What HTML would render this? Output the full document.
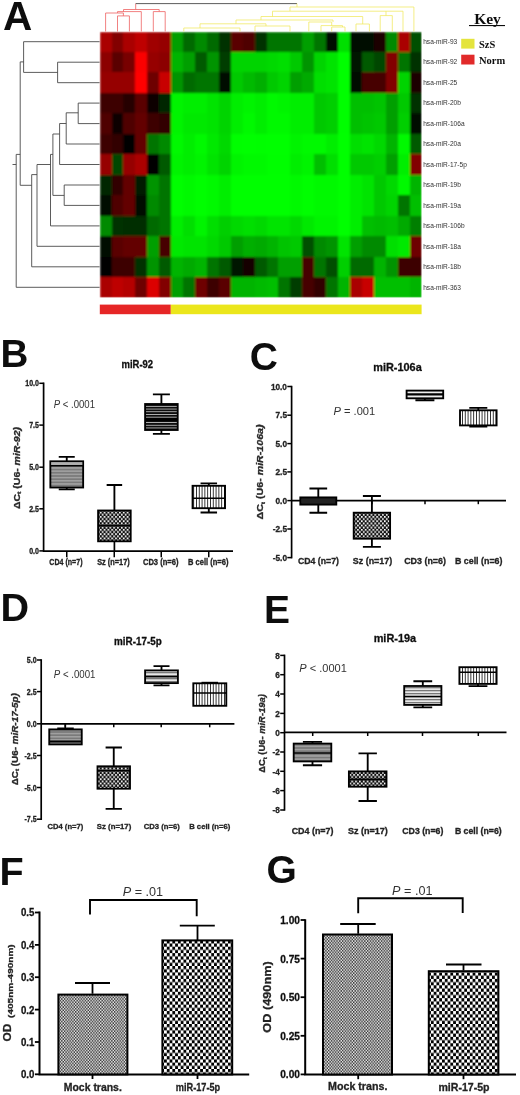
<!DOCTYPE html>
<html><head><meta charset="utf-8"><title>Figure</title>
<style>html,body{margin:0;padding:0;background:#fff;}svg{display:block;}text{font-family:"Liberation Sans",sans-serif;}</style>
</head><body>
<svg width="520" height="1095" viewBox="0 0 520 1095">
<defs>
<filter id="bl" x="-2%" y="-2%" width="104%" height="104%"><feGaussianBlur stdDeviation="0.9"/></filter>
<filter id="b2" x="-5%" y="-5%" width="110%" height="110%"><feGaussianBlur stdDeviation="0.35"/></filter>
<pattern id="chkL" width="5.56" height="6.44" patternUnits="userSpaceOnUse"><rect width="5.56" height="6.44" fill="#fff"/><rect x="0" y="0" width="2.78" height="3.22" fill="#000"/><rect x="2.78" y="3.22" width="2.78" height="3.22" fill="#000"/></pattern>
<pattern id="chkS" width="3.84" height="4.3" patternUnits="userSpaceOnUse"><rect width="3.84" height="4.3" fill="#111"/><rect x="0" y="0" width="1.65" height="1.85" fill="#fff"/><rect x="1.92" y="2.15" width="1.65" height="1.85" fill="#fff"/></pattern>
<pattern id="hlD" width="4" height="2.7" patternUnits="userSpaceOnUse"><rect width="4" height="2.7" fill="#0a0a0a"/><rect x="0" y="0.9" width="4" height="0.9" fill="#b8b8b8"/></pattern>
<pattern id="hlL" width="4" height="3" patternUnits="userSpaceOnUse"><rect width="4" height="3" fill="#e8e8e8"/><rect x="0" y="0" width="4" height="1.3" fill="#777"/></pattern>
<pattern id="vl" width="2.8" height="4" patternUnits="userSpaceOnUse"><rect width="2.8" height="4" fill="#fff"/><rect x="0" y="0" width="0.9" height="4" fill="#222"/></pattern>
<pattern id="chkF" width="2.78" height="3.22" patternUnits="userSpaceOnUse"><rect width="2.78" height="3.22" fill="#e6e6e6"/><rect x="0" y="0" width="1.39" height="1.61" fill="#3a3a3a"/><rect x="1.39" y="1.61" width="1.39" height="1.61" fill="#3a3a3a"/></pattern>
<filter id="soft" x="0" y="0" width="520" height="1095" filterUnits="userSpaceOnUse"><feGaussianBlur stdDeviation="0.38"/></filter>
<pattern id="gr" width="4" height="3.2" patternUnits="userSpaceOnUse"><rect width="4" height="3.2" fill="#7a7a7a"/><rect x="0" y="0" width="4" height="1.5" fill="#a2a2a2"/></pattern>
</defs>
<rect width="520" height="1095" fill="#fff"/>
<g filter="url(#soft)">
<g filter="url(#bl)" shape-rendering="crispEdges">
<rect x="99.6" y="31.5" width="322.00" height="266.00" fill="#0c0"/>
<rect x="99.60" y="31.50" width="12.53" height="21.06" fill="rgb(170,0,0)"/>
<rect x="111.53" y="31.50" width="12.53" height="21.06" fill="rgb(130,0,0)"/>
<rect x="123.45" y="31.50" width="12.53" height="21.06" fill="rgb(170,0,0)"/>
<rect x="135.38" y="31.50" width="12.53" height="21.06" fill="rgb(190,0,0)"/>
<rect x="147.30" y="31.50" width="12.53" height="21.06" fill="rgb(160,0,0)"/>
<rect x="159.23" y="31.50" width="12.53" height="21.06" fill="rgb(150,0,0)"/>
<rect x="171.16" y="31.50" width="12.53" height="21.06" fill="rgb(0,159,0)"/>
<rect x="183.08" y="31.50" width="12.53" height="21.06" fill="rgb(0,106,0)"/>
<rect x="195.01" y="31.50" width="12.53" height="21.06" fill="rgb(0,138,0)"/>
<rect x="206.93" y="31.50" width="12.53" height="21.06" fill="rgb(0,106,0)"/>
<rect x="218.86" y="31.50" width="12.53" height="21.06" fill="rgb(0,50,0)"/>
<rect x="230.79" y="31.50" width="12.53" height="21.06" fill="rgb(90,0,0)"/>
<rect x="242.71" y="31.50" width="12.53" height="21.06" fill="rgb(80,0,0)"/>
<rect x="254.64" y="31.50" width="12.53" height="21.06" fill="rgb(0,50,0)"/>
<rect x="266.56" y="31.50" width="12.53" height="21.06" fill="rgb(0,117,0)"/>
<rect x="278.49" y="31.50" width="12.53" height="21.06" fill="rgb(0,117,0)"/>
<rect x="290.41" y="31.50" width="12.53" height="21.06" fill="rgb(0,117,0)"/>
<rect x="302.34" y="31.50" width="12.53" height="21.06" fill="rgb(0,159,0)"/>
<rect x="314.27" y="31.50" width="12.53" height="21.06" fill="rgb(0,117,0)"/>
<rect x="326.19" y="31.50" width="12.53" height="21.06" fill="rgb(0,15,0)"/>
<rect x="338.12" y="31.50" width="12.53" height="21.06" fill="rgb(0,223,0)"/>
<rect x="350.04" y="31.50" width="12.53" height="21.06" fill="rgb(0,15,0)"/>
<rect x="361.97" y="31.50" width="12.53" height="21.06" fill="rgb(0,8,0)"/>
<rect x="373.90" y="31.50" width="12.53" height="21.06" fill="rgb(30,0,0)"/>
<rect x="385.82" y="31.50" width="12.53" height="21.06" fill="rgb(0,138,0)"/>
<rect x="397.75" y="31.50" width="12.53" height="21.06" fill="rgb(170,0,0)"/>
<rect x="409.67" y="31.50" width="12.53" height="21.06" fill="rgb(0,80,0)"/>
<rect x="99.60" y="51.96" width="12.53" height="21.06" fill="rgb(140,0,0)"/>
<rect x="111.53" y="51.96" width="12.53" height="21.06" fill="rgb(90,0,0)"/>
<rect x="123.45" y="51.96" width="12.53" height="21.06" fill="rgb(120,0,0)"/>
<rect x="135.38" y="51.96" width="12.53" height="21.06" fill="rgb(250,0,0)"/>
<rect x="147.30" y="51.96" width="12.53" height="21.06" fill="rgb(150,0,0)"/>
<rect x="159.23" y="51.96" width="12.53" height="21.06" fill="rgb(140,0,0)"/>
<rect x="171.16" y="51.96" width="12.53" height="21.06" fill="rgb(0,180,0)"/>
<rect x="183.08" y="51.96" width="12.53" height="21.06" fill="rgb(0,159,0)"/>
<rect x="195.01" y="51.96" width="12.53" height="21.06" fill="rgb(0,90,0)"/>
<rect x="206.93" y="51.96" width="12.53" height="21.06" fill="rgb(0,148,0)"/>
<rect x="218.86" y="51.96" width="12.53" height="21.06" fill="rgb(0,60,0)"/>
<rect x="230.79" y="51.96" width="12.53" height="21.06" fill="rgb(0,212,0)"/>
<rect x="242.71" y="51.96" width="12.53" height="21.06" fill="rgb(0,212,0)"/>
<rect x="254.64" y="51.96" width="12.53" height="21.06" fill="rgb(0,212,0)"/>
<rect x="266.56" y="51.96" width="12.53" height="21.06" fill="rgb(0,217,0)"/>
<rect x="278.49" y="51.96" width="12.53" height="21.06" fill="rgb(0,223,0)"/>
<rect x="290.41" y="51.96" width="12.53" height="21.06" fill="rgb(0,201,0)"/>
<rect x="302.34" y="51.96" width="12.53" height="21.06" fill="rgb(0,148,0)"/>
<rect x="314.27" y="51.96" width="12.53" height="21.06" fill="rgb(0,212,0)"/>
<rect x="326.19" y="51.96" width="12.53" height="21.06" fill="rgb(0,228,0)"/>
<rect x="338.12" y="51.96" width="12.53" height="21.06" fill="rgb(0,254,0)"/>
<rect x="350.04" y="51.96" width="12.53" height="21.06" fill="rgb(0,20,0)"/>
<rect x="361.97" y="51.96" width="12.53" height="21.06" fill="rgb(0,90,0)"/>
<rect x="373.90" y="51.96" width="12.53" height="21.06" fill="rgb(0,70,0)"/>
<rect x="385.82" y="51.96" width="12.53" height="21.06" fill="rgb(130,0,0)"/>
<rect x="397.75" y="51.96" width="12.53" height="21.06" fill="rgb(0,117,0)"/>
<rect x="409.67" y="51.96" width="12.53" height="21.06" fill="rgb(0,50,0)"/>
<rect x="99.60" y="72.42" width="12.53" height="21.06" fill="rgb(150,0,0)"/>
<rect x="111.53" y="72.42" width="12.53" height="21.06" fill="rgb(150,0,0)"/>
<rect x="123.45" y="72.42" width="12.53" height="21.06" fill="rgb(150,0,0)"/>
<rect x="135.38" y="72.42" width="12.53" height="21.06" fill="rgb(255,0,0)"/>
<rect x="147.30" y="72.42" width="12.53" height="21.06" fill="rgb(110,0,0)"/>
<rect x="159.23" y="72.42" width="12.53" height="21.06" fill="rgb(200,0,0)"/>
<rect x="171.16" y="72.42" width="12.53" height="21.06" fill="rgb(0,148,0)"/>
<rect x="183.08" y="72.42" width="12.53" height="21.06" fill="rgb(0,106,0)"/>
<rect x="195.01" y="72.42" width="12.53" height="21.06" fill="rgb(0,117,0)"/>
<rect x="206.93" y="72.42" width="12.53" height="21.06" fill="rgb(0,117,0)"/>
<rect x="218.86" y="72.42" width="12.53" height="21.06" fill="rgb(0,10,0)"/>
<rect x="230.79" y="72.42" width="12.53" height="21.06" fill="rgb(0,201,0)"/>
<rect x="242.71" y="72.42" width="12.53" height="21.06" fill="rgb(0,186,0)"/>
<rect x="254.64" y="72.42" width="12.53" height="21.06" fill="rgb(0,175,0)"/>
<rect x="266.56" y="72.42" width="12.53" height="21.06" fill="rgb(0,201,0)"/>
<rect x="278.49" y="72.42" width="12.53" height="21.06" fill="rgb(0,212,0)"/>
<rect x="290.41" y="72.42" width="12.53" height="21.06" fill="rgb(0,159,0)"/>
<rect x="302.34" y="72.42" width="12.53" height="21.06" fill="rgb(0,170,0)"/>
<rect x="314.27" y="72.42" width="12.53" height="21.06" fill="rgb(0,223,0)"/>
<rect x="326.19" y="72.42" width="12.53" height="21.06" fill="rgb(0,228,0)"/>
<rect x="338.12" y="72.42" width="12.53" height="21.06" fill="rgb(0,254,0)"/>
<rect x="350.04" y="72.42" width="12.53" height="21.06" fill="rgb(0,10,0)"/>
<rect x="361.97" y="72.42" width="12.53" height="21.06" fill="rgb(70,0,0)"/>
<rect x="373.90" y="72.42" width="12.53" height="21.06" fill="rgb(70,0,0)"/>
<rect x="385.82" y="72.42" width="12.53" height="21.06" fill="rgb(130,0,0)"/>
<rect x="397.75" y="72.42" width="12.53" height="21.06" fill="rgb(0,212,0)"/>
<rect x="409.67" y="72.42" width="12.53" height="21.06" fill="rgb(30,0,0)"/>
<rect x="99.60" y="92.88" width="12.53" height="21.06" fill="rgb(60,0,0)"/>
<rect x="111.53" y="92.88" width="12.53" height="21.06" fill="rgb(60,0,0)"/>
<rect x="123.45" y="92.88" width="12.53" height="21.06" fill="rgb(40,0,0)"/>
<rect x="135.38" y="92.88" width="12.53" height="21.06" fill="rgb(90,0,0)"/>
<rect x="147.30" y="92.88" width="12.53" height="21.06" fill="rgb(15,0,0)"/>
<rect x="159.23" y="92.88" width="12.53" height="21.06" fill="rgb(0,40,0)"/>
<rect x="171.16" y="92.88" width="12.53" height="21.06" fill="rgb(0,244,0)"/>
<rect x="183.08" y="92.88" width="12.53" height="21.06" fill="rgb(0,238,0)"/>
<rect x="195.01" y="92.88" width="12.53" height="21.06" fill="rgb(0,238,0)"/>
<rect x="206.93" y="92.88" width="12.53" height="21.06" fill="rgb(0,228,0)"/>
<rect x="218.86" y="92.88" width="12.53" height="21.06" fill="rgb(0,212,0)"/>
<rect x="230.79" y="92.88" width="12.53" height="21.06" fill="rgb(0,238,0)"/>
<rect x="242.71" y="92.88" width="12.53" height="21.06" fill="rgb(0,244,0)"/>
<rect x="254.64" y="92.88" width="12.53" height="21.06" fill="rgb(0,238,0)"/>
<rect x="266.56" y="92.88" width="12.53" height="21.06" fill="rgb(0,249,0)"/>
<rect x="278.49" y="92.88" width="12.53" height="21.06" fill="rgb(0,244,0)"/>
<rect x="290.41" y="92.88" width="12.53" height="21.06" fill="rgb(0,238,0)"/>
<rect x="302.34" y="92.88" width="12.53" height="21.06" fill="rgb(0,238,0)"/>
<rect x="314.27" y="92.88" width="12.53" height="21.06" fill="rgb(0,201,0)"/>
<rect x="326.19" y="92.88" width="12.53" height="21.06" fill="rgb(0,207,0)"/>
<rect x="338.12" y="92.88" width="12.53" height="21.06" fill="rgb(0,254,0)"/>
<rect x="350.04" y="92.88" width="12.53" height="21.06" fill="rgb(0,191,0)"/>
<rect x="361.97" y="92.88" width="12.53" height="21.06" fill="rgb(0,191,0)"/>
<rect x="373.90" y="92.88" width="12.53" height="21.06" fill="rgb(0,196,0)"/>
<rect x="385.82" y="92.88" width="12.53" height="21.06" fill="rgb(0,159,0)"/>
<rect x="397.75" y="92.88" width="12.53" height="21.06" fill="rgb(0,201,0)"/>
<rect x="409.67" y="92.88" width="12.53" height="21.06" fill="rgb(0,50,0)"/>
<rect x="99.60" y="113.35" width="12.53" height="21.06" fill="rgb(80,0,0)"/>
<rect x="111.53" y="113.35" width="12.53" height="21.06" fill="rgb(8,0,0)"/>
<rect x="123.45" y="113.35" width="12.53" height="21.06" fill="rgb(80,0,0)"/>
<rect x="135.38" y="113.35" width="12.53" height="21.06" fill="rgb(100,0,0)"/>
<rect x="147.30" y="113.35" width="12.53" height="21.06" fill="rgb(60,0,0)"/>
<rect x="159.23" y="113.35" width="12.53" height="21.06" fill="rgb(50,0,0)"/>
<rect x="171.16" y="113.35" width="12.53" height="21.06" fill="rgb(0,244,0)"/>
<rect x="183.08" y="113.35" width="12.53" height="21.06" fill="rgb(0,233,0)"/>
<rect x="195.01" y="113.35" width="12.53" height="21.06" fill="rgb(0,233,0)"/>
<rect x="206.93" y="113.35" width="12.53" height="21.06" fill="rgb(0,228,0)"/>
<rect x="218.86" y="113.35" width="12.53" height="21.06" fill="rgb(0,212,0)"/>
<rect x="230.79" y="113.35" width="12.53" height="21.06" fill="rgb(0,238,0)"/>
<rect x="242.71" y="113.35" width="12.53" height="21.06" fill="rgb(0,249,0)"/>
<rect x="254.64" y="113.35" width="12.53" height="21.06" fill="rgb(0,238,0)"/>
<rect x="266.56" y="113.35" width="12.53" height="21.06" fill="rgb(0,249,0)"/>
<rect x="278.49" y="113.35" width="12.53" height="21.06" fill="rgb(0,249,0)"/>
<rect x="290.41" y="113.35" width="12.53" height="21.06" fill="rgb(0,238,0)"/>
<rect x="302.34" y="113.35" width="12.53" height="21.06" fill="rgb(0,238,0)"/>
<rect x="314.27" y="113.35" width="12.53" height="21.06" fill="rgb(0,201,0)"/>
<rect x="326.19" y="113.35" width="12.53" height="21.06" fill="rgb(0,207,0)"/>
<rect x="338.12" y="113.35" width="12.53" height="21.06" fill="rgb(0,254,0)"/>
<rect x="350.04" y="113.35" width="12.53" height="21.06" fill="rgb(0,191,0)"/>
<rect x="361.97" y="113.35" width="12.53" height="21.06" fill="rgb(0,196,0)"/>
<rect x="373.90" y="113.35" width="12.53" height="21.06" fill="rgb(0,201,0)"/>
<rect x="385.82" y="113.35" width="12.53" height="21.06" fill="rgb(0,159,0)"/>
<rect x="397.75" y="113.35" width="12.53" height="21.06" fill="rgb(0,207,0)"/>
<rect x="409.67" y="113.35" width="12.53" height="21.06" fill="rgb(0,8,0)"/>
<rect x="99.60" y="133.81" width="12.53" height="21.06" fill="rgb(60,0,0)"/>
<rect x="111.53" y="133.81" width="12.53" height="21.06" fill="rgb(50,0,0)"/>
<rect x="123.45" y="133.81" width="12.53" height="21.06" fill="rgb(4,0,0)"/>
<rect x="135.38" y="133.81" width="12.53" height="21.06" fill="rgb(100,0,0)"/>
<rect x="147.30" y="133.81" width="12.53" height="21.06" fill="rgb(0,117,0)"/>
<rect x="159.23" y="133.81" width="12.53" height="21.06" fill="rgb(0,138,0)"/>
<rect x="171.16" y="133.81" width="12.53" height="21.06" fill="rgb(0,249,0)"/>
<rect x="183.08" y="133.81" width="12.53" height="21.06" fill="rgb(0,238,0)"/>
<rect x="195.01" y="133.81" width="12.53" height="21.06" fill="rgb(0,249,0)"/>
<rect x="206.93" y="133.81" width="12.53" height="21.06" fill="rgb(0,233,0)"/>
<rect x="218.86" y="133.81" width="12.53" height="21.06" fill="rgb(0,217,0)"/>
<rect x="230.79" y="133.81" width="12.53" height="21.06" fill="rgb(0,254,0)"/>
<rect x="242.71" y="133.81" width="12.53" height="21.06" fill="rgb(0,255,0)"/>
<rect x="254.64" y="133.81" width="12.53" height="21.06" fill="rgb(0,254,0)"/>
<rect x="266.56" y="133.81" width="12.53" height="21.06" fill="rgb(0,255,0)"/>
<rect x="278.49" y="133.81" width="12.53" height="21.06" fill="rgb(0,255,0)"/>
<rect x="290.41" y="133.81" width="12.53" height="21.06" fill="rgb(0,244,0)"/>
<rect x="302.34" y="133.81" width="12.53" height="21.06" fill="rgb(0,249,0)"/>
<rect x="314.27" y="133.81" width="12.53" height="21.06" fill="rgb(0,249,0)"/>
<rect x="326.19" y="133.81" width="12.53" height="21.06" fill="rgb(0,238,0)"/>
<rect x="338.12" y="133.81" width="12.53" height="21.06" fill="rgb(0,255,0)"/>
<rect x="350.04" y="133.81" width="12.53" height="21.06" fill="rgb(0,223,0)"/>
<rect x="361.97" y="133.81" width="12.53" height="21.06" fill="rgb(0,228,0)"/>
<rect x="373.90" y="133.81" width="12.53" height="21.06" fill="rgb(0,217,0)"/>
<rect x="385.82" y="133.81" width="12.53" height="21.06" fill="rgb(0,180,0)"/>
<rect x="397.75" y="133.81" width="12.53" height="21.06" fill="rgb(0,249,0)"/>
<rect x="409.67" y="133.81" width="12.53" height="21.06" fill="rgb(0,90,0)"/>
<rect x="99.60" y="154.27" width="12.53" height="21.06" fill="rgb(150,0,0)"/>
<rect x="111.53" y="154.27" width="12.53" height="21.06" fill="rgb(0,70,0)"/>
<rect x="123.45" y="154.27" width="12.53" height="21.06" fill="rgb(150,0,0)"/>
<rect x="135.38" y="154.27" width="12.53" height="21.06" fill="rgb(170,0,0)"/>
<rect x="147.30" y="154.27" width="12.53" height="21.06" fill="rgb(0,3,0)"/>
<rect x="159.23" y="154.27" width="12.53" height="21.06" fill="rgb(0,90,0)"/>
<rect x="171.16" y="154.27" width="12.53" height="21.06" fill="rgb(0,244,0)"/>
<rect x="183.08" y="154.27" width="12.53" height="21.06" fill="rgb(0,238,0)"/>
<rect x="195.01" y="154.27" width="12.53" height="21.06" fill="rgb(0,244,0)"/>
<rect x="206.93" y="154.27" width="12.53" height="21.06" fill="rgb(0,228,0)"/>
<rect x="218.86" y="154.27" width="12.53" height="21.06" fill="rgb(0,212,0)"/>
<rect x="230.79" y="154.27" width="12.53" height="21.06" fill="rgb(0,244,0)"/>
<rect x="242.71" y="154.27" width="12.53" height="21.06" fill="rgb(0,249,0)"/>
<rect x="254.64" y="154.27" width="12.53" height="21.06" fill="rgb(0,249,0)"/>
<rect x="266.56" y="154.27" width="12.53" height="21.06" fill="rgb(0,254,0)"/>
<rect x="278.49" y="154.27" width="12.53" height="21.06" fill="rgb(0,254,0)"/>
<rect x="290.41" y="154.27" width="12.53" height="21.06" fill="rgb(0,238,0)"/>
<rect x="302.34" y="154.27" width="12.53" height="21.06" fill="rgb(0,244,0)"/>
<rect x="314.27" y="154.27" width="12.53" height="21.06" fill="rgb(0,191,0)"/>
<rect x="326.19" y="154.27" width="12.53" height="21.06" fill="rgb(0,223,0)"/>
<rect x="338.12" y="154.27" width="12.53" height="21.06" fill="rgb(0,255,0)"/>
<rect x="350.04" y="154.27" width="12.53" height="21.06" fill="rgb(0,201,0)"/>
<rect x="361.97" y="154.27" width="12.53" height="21.06" fill="rgb(0,201,0)"/>
<rect x="373.90" y="154.27" width="12.53" height="21.06" fill="rgb(0,207,0)"/>
<rect x="385.82" y="154.27" width="12.53" height="21.06" fill="rgb(0,159,0)"/>
<rect x="397.75" y="154.27" width="12.53" height="21.06" fill="rgb(0,238,0)"/>
<rect x="409.67" y="154.27" width="12.53" height="21.06" fill="rgb(130,0,0)"/>
<rect x="99.60" y="174.73" width="12.53" height="21.06" fill="rgb(0,40,0)"/>
<rect x="111.53" y="174.73" width="12.53" height="21.06" fill="rgb(50,0,0)"/>
<rect x="123.45" y="174.73" width="12.53" height="21.06" fill="rgb(100,0,0)"/>
<rect x="135.38" y="174.73" width="12.53" height="21.06" fill="rgb(0,30,0)"/>
<rect x="147.30" y="174.73" width="12.53" height="21.06" fill="rgb(0,148,0)"/>
<rect x="159.23" y="174.73" width="12.53" height="21.06" fill="rgb(0,117,0)"/>
<rect x="171.16" y="174.73" width="12.53" height="21.06" fill="rgb(0,254,0)"/>
<rect x="183.08" y="174.73" width="12.53" height="21.06" fill="rgb(0,249,0)"/>
<rect x="195.01" y="174.73" width="12.53" height="21.06" fill="rgb(0,254,0)"/>
<rect x="206.93" y="174.73" width="12.53" height="21.06" fill="rgb(0,249,0)"/>
<rect x="218.86" y="174.73" width="12.53" height="21.06" fill="rgb(0,238,0)"/>
<rect x="230.79" y="174.73" width="12.53" height="21.06" fill="rgb(0,255,0)"/>
<rect x="242.71" y="174.73" width="12.53" height="21.06" fill="rgb(0,255,0)"/>
<rect x="254.64" y="174.73" width="12.53" height="21.06" fill="rgb(0,255,0)"/>
<rect x="266.56" y="174.73" width="12.53" height="21.06" fill="rgb(0,255,0)"/>
<rect x="278.49" y="174.73" width="12.53" height="21.06" fill="rgb(0,255,0)"/>
<rect x="290.41" y="174.73" width="12.53" height="21.06" fill="rgb(0,249,0)"/>
<rect x="302.34" y="174.73" width="12.53" height="21.06" fill="rgb(0,254,0)"/>
<rect x="314.27" y="174.73" width="12.53" height="21.06" fill="rgb(0,249,0)"/>
<rect x="326.19" y="174.73" width="12.53" height="21.06" fill="rgb(0,249,0)"/>
<rect x="338.12" y="174.73" width="12.53" height="21.06" fill="rgb(0,255,0)"/>
<rect x="350.04" y="174.73" width="12.53" height="21.06" fill="rgb(0,238,0)"/>
<rect x="361.97" y="174.73" width="12.53" height="21.06" fill="rgb(0,228,0)"/>
<rect x="373.90" y="174.73" width="12.53" height="21.06" fill="rgb(0,201,0)"/>
<rect x="385.82" y="174.73" width="12.53" height="21.06" fill="rgb(0,217,0)"/>
<rect x="397.75" y="174.73" width="12.53" height="21.06" fill="rgb(0,249,0)"/>
<rect x="409.67" y="174.73" width="12.53" height="21.06" fill="rgb(0,180,0)"/>
<rect x="99.60" y="195.19" width="12.53" height="21.06" fill="rgb(0,12,0)"/>
<rect x="111.53" y="195.19" width="12.53" height="21.06" fill="rgb(80,0,0)"/>
<rect x="123.45" y="195.19" width="12.53" height="21.06" fill="rgb(100,0,0)"/>
<rect x="135.38" y="195.19" width="12.53" height="21.06" fill="rgb(0,8,0)"/>
<rect x="147.30" y="195.19" width="12.53" height="21.06" fill="rgb(0,138,0)"/>
<rect x="159.23" y="195.19" width="12.53" height="21.06" fill="rgb(0,117,0)"/>
<rect x="171.16" y="195.19" width="12.53" height="21.06" fill="rgb(0,254,0)"/>
<rect x="183.08" y="195.19" width="12.53" height="21.06" fill="rgb(0,249,0)"/>
<rect x="195.01" y="195.19" width="12.53" height="21.06" fill="rgb(0,254,0)"/>
<rect x="206.93" y="195.19" width="12.53" height="21.06" fill="rgb(0,249,0)"/>
<rect x="218.86" y="195.19" width="12.53" height="21.06" fill="rgb(0,238,0)"/>
<rect x="230.79" y="195.19" width="12.53" height="21.06" fill="rgb(0,255,0)"/>
<rect x="242.71" y="195.19" width="12.53" height="21.06" fill="rgb(0,255,0)"/>
<rect x="254.64" y="195.19" width="12.53" height="21.06" fill="rgb(0,255,0)"/>
<rect x="266.56" y="195.19" width="12.53" height="21.06" fill="rgb(0,255,0)"/>
<rect x="278.49" y="195.19" width="12.53" height="21.06" fill="rgb(0,255,0)"/>
<rect x="290.41" y="195.19" width="12.53" height="21.06" fill="rgb(0,249,0)"/>
<rect x="302.34" y="195.19" width="12.53" height="21.06" fill="rgb(0,254,0)"/>
<rect x="314.27" y="195.19" width="12.53" height="21.06" fill="rgb(0,249,0)"/>
<rect x="326.19" y="195.19" width="12.53" height="21.06" fill="rgb(0,249,0)"/>
<rect x="338.12" y="195.19" width="12.53" height="21.06" fill="rgb(0,255,0)"/>
<rect x="350.04" y="195.19" width="12.53" height="21.06" fill="rgb(0,238,0)"/>
<rect x="361.97" y="195.19" width="12.53" height="21.06" fill="rgb(0,228,0)"/>
<rect x="373.90" y="195.19" width="12.53" height="21.06" fill="rgb(0,201,0)"/>
<rect x="385.82" y="195.19" width="12.53" height="21.06" fill="rgb(0,212,0)"/>
<rect x="397.75" y="195.19" width="12.53" height="21.06" fill="rgb(0,117,0)"/>
<rect x="409.67" y="195.19" width="12.53" height="21.06" fill="rgb(0,191,0)"/>
<rect x="99.60" y="215.65" width="12.53" height="21.06" fill="rgb(0,138,0)"/>
<rect x="111.53" y="215.65" width="12.53" height="21.06" fill="rgb(0,50,0)"/>
<rect x="123.45" y="215.65" width="12.53" height="21.06" fill="rgb(0,45,0)"/>
<rect x="135.38" y="215.65" width="12.53" height="21.06" fill="rgb(0,45,0)"/>
<rect x="147.30" y="215.65" width="12.53" height="21.06" fill="rgb(0,106,0)"/>
<rect x="159.23" y="215.65" width="12.53" height="21.06" fill="rgb(0,117,0)"/>
<rect x="171.16" y="215.65" width="12.53" height="21.06" fill="rgb(0,238,0)"/>
<rect x="183.08" y="215.65" width="12.53" height="21.06" fill="rgb(0,223,0)"/>
<rect x="195.01" y="215.65" width="12.53" height="21.06" fill="rgb(0,244,0)"/>
<rect x="206.93" y="215.65" width="12.53" height="21.06" fill="rgb(0,223,0)"/>
<rect x="218.86" y="215.65" width="12.53" height="21.06" fill="rgb(0,207,0)"/>
<rect x="230.79" y="215.65" width="12.53" height="21.06" fill="rgb(0,217,0)"/>
<rect x="242.71" y="215.65" width="12.53" height="21.06" fill="rgb(0,223,0)"/>
<rect x="254.64" y="215.65" width="12.53" height="21.06" fill="rgb(0,217,0)"/>
<rect x="266.56" y="215.65" width="12.53" height="21.06" fill="rgb(0,228,0)"/>
<rect x="278.49" y="215.65" width="12.53" height="21.06" fill="rgb(0,228,0)"/>
<rect x="290.41" y="215.65" width="12.53" height="21.06" fill="rgb(0,217,0)"/>
<rect x="302.34" y="215.65" width="12.53" height="21.06" fill="rgb(0,233,0)"/>
<rect x="314.27" y="215.65" width="12.53" height="21.06" fill="rgb(0,244,0)"/>
<rect x="326.19" y="215.65" width="12.53" height="21.06" fill="rgb(0,244,0)"/>
<rect x="338.12" y="215.65" width="12.53" height="21.06" fill="rgb(0,255,0)"/>
<rect x="350.04" y="215.65" width="12.53" height="21.06" fill="rgb(0,238,0)"/>
<rect x="361.97" y="215.65" width="12.53" height="21.06" fill="rgb(0,191,0)"/>
<rect x="373.90" y="215.65" width="12.53" height="21.06" fill="rgb(0,186,0)"/>
<rect x="385.82" y="215.65" width="12.53" height="21.06" fill="rgb(0,191,0)"/>
<rect x="397.75" y="215.65" width="12.53" height="21.06" fill="rgb(0,170,0)"/>
<rect x="409.67" y="215.65" width="12.53" height="21.06" fill="rgb(0,127,0)"/>
<rect x="99.60" y="236.12" width="12.53" height="21.06" fill="rgb(0,8,0)"/>
<rect x="111.53" y="236.12" width="12.53" height="21.06" fill="rgb(90,0,0)"/>
<rect x="123.45" y="236.12" width="12.53" height="21.06" fill="rgb(100,0,0)"/>
<rect x="135.38" y="236.12" width="12.53" height="21.06" fill="rgb(100,0,0)"/>
<rect x="147.30" y="236.12" width="12.53" height="21.06" fill="rgb(0,159,0)"/>
<rect x="159.23" y="236.12" width="12.53" height="21.06" fill="rgb(70,0,0)"/>
<rect x="171.16" y="236.12" width="12.53" height="21.06" fill="rgb(0,233,0)"/>
<rect x="183.08" y="236.12" width="12.53" height="21.06" fill="rgb(0,228,0)"/>
<rect x="195.01" y="236.12" width="12.53" height="21.06" fill="rgb(0,228,0)"/>
<rect x="206.93" y="236.12" width="12.53" height="21.06" fill="rgb(0,217,0)"/>
<rect x="218.86" y="236.12" width="12.53" height="21.06" fill="rgb(0,201,0)"/>
<rect x="230.79" y="236.12" width="12.53" height="21.06" fill="rgb(0,159,0)"/>
<rect x="242.71" y="236.12" width="12.53" height="21.06" fill="rgb(0,175,0)"/>
<rect x="254.64" y="236.12" width="12.53" height="21.06" fill="rgb(0,170,0)"/>
<rect x="266.56" y="236.12" width="12.53" height="21.06" fill="rgb(0,180,0)"/>
<rect x="278.49" y="236.12" width="12.53" height="21.06" fill="rgb(0,196,0)"/>
<rect x="290.41" y="236.12" width="12.53" height="21.06" fill="rgb(0,201,0)"/>
<rect x="302.34" y="236.12" width="12.53" height="21.06" fill="rgb(0,80,0)"/>
<rect x="314.27" y="236.12" width="12.53" height="21.06" fill="rgb(0,138,0)"/>
<rect x="326.19" y="236.12" width="12.53" height="21.06" fill="rgb(0,148,0)"/>
<rect x="338.12" y="236.12" width="12.53" height="21.06" fill="rgb(0,228,0)"/>
<rect x="350.04" y="236.12" width="12.53" height="21.06" fill="rgb(0,159,0)"/>
<rect x="361.97" y="236.12" width="12.53" height="21.06" fill="rgb(0,138,0)"/>
<rect x="373.90" y="236.12" width="12.53" height="21.06" fill="rgb(0,138,0)"/>
<rect x="385.82" y="236.12" width="12.53" height="21.06" fill="rgb(0,223,0)"/>
<rect x="397.75" y="236.12" width="12.53" height="21.06" fill="rgb(0,233,0)"/>
<rect x="409.67" y="236.12" width="12.53" height="21.06" fill="rgb(110,0,0)"/>
<rect x="99.60" y="256.58" width="12.53" height="21.06" fill="rgb(0,4,0)"/>
<rect x="111.53" y="256.58" width="12.53" height="21.06" fill="rgb(60,0,0)"/>
<rect x="123.45" y="256.58" width="12.53" height="21.06" fill="rgb(60,0,0)"/>
<rect x="135.38" y="256.58" width="12.53" height="21.06" fill="rgb(0,50,0)"/>
<rect x="147.30" y="256.58" width="12.53" height="21.06" fill="rgb(0,148,0)"/>
<rect x="159.23" y="256.58" width="12.53" height="21.06" fill="rgb(0,90,0)"/>
<rect x="171.16" y="256.58" width="12.53" height="21.06" fill="rgb(0,180,0)"/>
<rect x="183.08" y="256.58" width="12.53" height="21.06" fill="rgb(0,170,0)"/>
<rect x="195.01" y="256.58" width="12.53" height="21.06" fill="rgb(0,180,0)"/>
<rect x="206.93" y="256.58" width="12.53" height="21.06" fill="rgb(0,117,0)"/>
<rect x="218.86" y="256.58" width="12.53" height="21.06" fill="rgb(0,90,0)"/>
<rect x="230.79" y="256.58" width="12.53" height="21.06" fill="rgb(0,25,0)"/>
<rect x="242.71" y="256.58" width="12.53" height="21.06" fill="rgb(25,0,0)"/>
<rect x="254.64" y="256.58" width="12.53" height="21.06" fill="rgb(0,90,0)"/>
<rect x="266.56" y="256.58" width="12.53" height="21.06" fill="rgb(0,117,0)"/>
<rect x="278.49" y="256.58" width="12.53" height="21.06" fill="rgb(0,159,0)"/>
<rect x="290.41" y="256.58" width="12.53" height="21.06" fill="rgb(0,159,0)"/>
<rect x="302.34" y="256.58" width="12.53" height="21.06" fill="rgb(70,0,0)"/>
<rect x="314.27" y="256.58" width="12.53" height="21.06" fill="rgb(0,117,0)"/>
<rect x="326.19" y="256.58" width="12.53" height="21.06" fill="rgb(0,80,0)"/>
<rect x="338.12" y="256.58" width="12.53" height="21.06" fill="rgb(0,207,0)"/>
<rect x="350.04" y="256.58" width="12.53" height="21.06" fill="rgb(0,106,0)"/>
<rect x="361.97" y="256.58" width="12.53" height="21.06" fill="rgb(0,106,0)"/>
<rect x="373.90" y="256.58" width="12.53" height="21.06" fill="rgb(0,180,0)"/>
<rect x="385.82" y="256.58" width="12.53" height="21.06" fill="rgb(0,148,0)"/>
<rect x="397.75" y="256.58" width="12.53" height="21.06" fill="rgb(60,0,0)"/>
<rect x="409.67" y="256.58" width="12.53" height="21.06" fill="rgb(60,0,0)"/>
<rect x="99.60" y="277.04" width="12.53" height="21.06" fill="rgb(170,0,0)"/>
<rect x="111.53" y="277.04" width="12.53" height="21.06" fill="rgb(190,0,0)"/>
<rect x="123.45" y="277.04" width="12.53" height="21.06" fill="rgb(180,0,0)"/>
<rect x="135.38" y="277.04" width="12.53" height="21.06" fill="rgb(110,0,0)"/>
<rect x="147.30" y="277.04" width="12.53" height="21.06" fill="rgb(220,0,0)"/>
<rect x="159.23" y="277.04" width="12.53" height="21.06" fill="rgb(130,0,0)"/>
<rect x="171.16" y="277.04" width="12.53" height="21.06" fill="rgb(0,159,0)"/>
<rect x="183.08" y="277.04" width="12.53" height="21.06" fill="rgb(0,117,0)"/>
<rect x="195.01" y="277.04" width="12.53" height="21.06" fill="rgb(110,0,0)"/>
<rect x="206.93" y="277.04" width="12.53" height="21.06" fill="rgb(60,0,0)"/>
<rect x="218.86" y="277.04" width="12.53" height="21.06" fill="rgb(90,0,0)"/>
<rect x="230.79" y="277.04" width="12.53" height="21.06" fill="rgb(0,180,0)"/>
<rect x="242.71" y="277.04" width="12.53" height="21.06" fill="rgb(0,180,0)"/>
<rect x="254.64" y="277.04" width="12.53" height="21.06" fill="rgb(0,186,0)"/>
<rect x="266.56" y="277.04" width="12.53" height="21.06" fill="rgb(0,191,0)"/>
<rect x="278.49" y="277.04" width="12.53" height="21.06" fill="rgb(0,117,0)"/>
<rect x="290.41" y="277.04" width="12.53" height="21.06" fill="rgb(0,60,0)"/>
<rect x="302.34" y="277.04" width="12.53" height="21.06" fill="rgb(70,0,0)"/>
<rect x="314.27" y="277.04" width="12.53" height="21.06" fill="rgb(50,0,0)"/>
<rect x="326.19" y="277.04" width="12.53" height="21.06" fill="rgb(0,117,0)"/>
<rect x="338.12" y="277.04" width="12.53" height="21.06" fill="rgb(0,180,0)"/>
<rect x="350.04" y="277.04" width="12.53" height="21.06" fill="rgb(170,0,0)"/>
<rect x="361.97" y="277.04" width="12.53" height="21.06" fill="rgb(200,0,0)"/>
<rect x="373.90" y="277.04" width="12.53" height="21.06" fill="rgb(0,191,0)"/>
<rect x="385.82" y="277.04" width="12.53" height="21.06" fill="rgb(0,191,0)"/>
<rect x="397.75" y="277.04" width="12.53" height="21.06" fill="rgb(0,191,0)"/>
<rect x="409.67" y="277.04" width="12.53" height="21.06" fill="rgb(0,180,0)"/>
</g>
<rect x="95.6" y="27.5" width="4" height="274.00" fill="#fff"/>
<rect x="421.60" y="27.5" width="4" height="274.00" fill="#fff"/>
<rect x="95.6" y="27.5" width="330.00" height="4" fill="#fff"/>
<rect x="95.6" y="297.50" width="330.00" height="4" fill="#fff"/>
<rect x="99.8" y="304.6" width="71" height="9.6" fill="#e62828"/>
<rect x="170.8" y="304.6" width="250.8" height="9.6" fill="#ebe61e"/>
<text x="423.2" y="44.03" font-size="6.6" fill="#333">hsa-miR-93</text>
<text x="423.2" y="64.49" font-size="6.6" fill="#333">hsa-miR-92</text>
<text x="423.2" y="84.95" font-size="6.6" fill="#333">hsa-miR-25</text>
<text x="423.2" y="105.42" font-size="6.6" fill="#333">hsa-miR-20b</text>
<text x="423.2" y="125.88" font-size="6.6" fill="#333">hsa-miR-106a</text>
<text x="423.2" y="146.34" font-size="6.6" fill="#333">hsa-miR-20a</text>
<text x="423.2" y="166.80" font-size="6.6" fill="#333">hsa-miR-17-5p</text>
<text x="423.2" y="187.26" font-size="6.6" fill="#333">hsa-miR-19b</text>
<text x="423.2" y="207.72" font-size="6.6" fill="#333">hsa-miR-19a</text>
<text x="423.2" y="228.18" font-size="6.6" fill="#333">hsa-miR-106b</text>
<text x="423.2" y="248.65" font-size="6.6" fill="#333">hsa-miR-18a</text>
<text x="423.2" y="269.11" font-size="6.6" fill="#333">hsa-miR-18b</text>
<text x="423.2" y="289.57" font-size="6.6" fill="#333">hsa-miR-363</text>
<text x="487.5" y="24" font-family="Liberation Serif" font-weight="bold" font-size="15.5" text-anchor="middle" fill="#111" style="font-family:'Liberation Serif',serif">Key</text>
<rect x="469" y="25" width="36" height="1.1" fill="#111"/>
<rect x="461.2" y="38.8" width="13.3" height="9.8" fill="#e4e43c"/>
<rect x="461.2" y="54.7" width="13.3" height="9.8" fill="#e12a2a"/>
<text x="479" y="48" font-weight="bold" font-size="10.5" fill="#111" style="font-family:'Liberation Serif',serif">SzS</text>
<text x="479" y="64" font-weight="bold" font-size="10.5" fill="#111" style="font-family:'Liberation Serif',serif">Norm</text>
<path d="M23.6 41.7L99.6 41.7M57.6 62.2L99.6 62.2M57.6 82.7L99.6 82.7M57.6 62.2L57.6 82.7M23.6 72.4L57.6 72.4M23.6 41.7L23.6 72.4M20.2 61.9L23.6 61.9M20.2 61.9L20.2 185.3M78.2 103.1L99.6 103.1M78.2 123.6L99.6 123.6M78.2 103.1L78.2 123.6M66.2 112.8L78.2 112.8M66.2 112.8L66.2 144.0M66.2 144.0L99.6 144.0M59.6 123.5L66.2 123.5M59.6 123.5L59.6 164.5M59.6 164.5L99.6 164.5M52.9 134.0L59.6 134.0M52.9 134.0L52.9 195.4M52.9 195.4L64.2 195.4M64.2 185.0L99.6 185.0M64.2 205.4L99.6 205.4M64.2 185.0L64.2 205.4M50.5 154.4L52.9 154.4M50.5 154.4L50.5 225.9M50.5 225.9L99.6 225.9M37.0 164.5L50.5 164.5M37.0 164.5L37.0 246.3M37.0 246.3L99.6 246.3M31.7 174.6L37.0 174.6M31.7 174.6L31.7 266.8M31.7 266.8L99.6 266.8M20.2 185.3L31.7 185.3M16.2 154.4L20.2 154.4M16.2 154.4L16.2 287.3M16.2 287.3L99.6 287.3M12.5 164.5L16.2 164.5" stroke="#4a4a4a" stroke-width="0.9" fill="none"/>
<path d="M105.6 31.5L105.6 13.0M117.5 31.5L117.5 15.9M129.4 31.5L129.4 15.9M117.5 15.9L129.4 15.9M123.4 15.9L123.4 13.0M105.6 13.0L123.4 13.0M117.5 13.0L117.5 11.6M117.5 11.6L141.3 11.6M141.3 31.5L141.3 11.6M123.5 11.6L123.5 9.5M123.5 9.5L159.2 9.5M153.3 31.5L153.3 11.6M165.2 31.5L165.2 11.6M153.3 11.6L165.2 11.6M159.2 11.6L159.2 9.5M135.7 9.5L135.7 3.6" stroke="#ee6a6a" stroke-width="0.85" fill="none"/>
<path d="M135.7 3.6L297.0 3.6" stroke="#4a4a4a" stroke-width="0.9" fill="none"/>
<path d="M183.8 28.0L240.0 28.0M183.8 28.0L183.8 31.5M240.0 28.0L240.0 31.5M200.0 23.8L266.0 23.8M200.0 23.8L200.0 28.0M266.0 23.8L266.0 26.0M236.0 20.0L333.0 20.0M236.0 20.0L236.0 23.8M333.0 20.0L333.0 22.0M255.0 26.0L290.0 26.0M255.0 26.0L255.0 31.5M290.0 26.0L290.0 31.5M261.0 16.5L362.7 16.5M261.0 16.5L261.0 20.0M362.7 16.5L362.7 24.0M272.5 11.2L403.0 11.2M272.5 11.2L272.5 16.5M403.0 11.2L403.0 31.5M290.0 7.0L413.9 7.0M290.0 7.0L290.0 11.2M413.9 7.0L413.9 31.5M297.0 3.6L297.0 7.0M380.2 15.6L392.3 15.6M380.2 15.6L380.2 31.5M392.3 15.6L392.3 31.5M386.0 11.2L386.0 15.6M356.0 24.0L369.4 24.0M356.0 24.0L356.0 31.5M369.4 24.0L369.4 31.5M308.8 22.0L331.7 22.0M308.8 22.0L308.8 31.5M331.7 22.0L331.7 25.6M321.0 25.6L342.5 25.6M321.0 25.6L321.0 31.5M342.5 25.6L342.5 27.0M331.7 27.0L345.0 27.0M331.7 27.0L331.7 31.5M345.0 27.0L345.0 31.5" stroke="#f0e860" stroke-width="0.9" fill="none" opacity="0.85"/>
<text x="3.0" y="30" font-size="40.5" font-weight="bold" text-anchor="start" fill="#111" stroke="#111" stroke-width="0" >A</text>
<text x="0.6" y="367.4" font-size="38.6" font-weight="bold" text-anchor="start" fill="#111" stroke="#111" stroke-width="0" >B</text>
<text x="249.8" y="370.3" font-size="39" font-weight="bold" text-anchor="start" fill="#111" stroke="#111" stroke-width="0" >C</text>
<text x="0.6" y="620.8" font-size="39.6" font-weight="bold" text-anchor="start" fill="#111" stroke="#111" stroke-width="0" >D</text>
<text x="264" y="623.4" font-size="39" font-weight="bold" text-anchor="start" fill="#111" stroke="#111" stroke-width="0" >E</text>
<text x="-0.6" y="885" font-size="39.6" font-weight="bold" text-anchor="start" fill="#111" stroke="#111" stroke-width="0" >F</text>
<text x="266.4" y="882.5" font-size="39" font-weight="bold" text-anchor="start" fill="#111" stroke="#111" stroke-width="0" >G</text>
<path d="M43.6 382.6V551.1H233" stroke="#000" stroke-width="1.7" fill="none"/>
<path d="M39.300000000000004 383.3H43.6" stroke="#000" stroke-width="1.5"/>
<text x="39.0" y="386.3" font-size="8.4" font-weight="bold" text-anchor="end" fill="#222" stroke="#222" stroke-width="0.3" textLength="13.73" lengthAdjust="spacingAndGlyphs" >10.0</text>
<path d="M39.300000000000004 425.1H43.6" stroke="#000" stroke-width="1.5"/>
<text x="39.0" y="428.1" font-size="8.4" font-weight="bold" text-anchor="end" fill="#222" stroke="#222" stroke-width="0.3" textLength="9.81" lengthAdjust="spacingAndGlyphs" >7.5</text>
<path d="M39.300000000000004 467.2H43.6" stroke="#000" stroke-width="1.5"/>
<text x="39.0" y="470.2" font-size="8.4" font-weight="bold" text-anchor="end" fill="#222" stroke="#222" stroke-width="0.3" textLength="9.81" lengthAdjust="spacingAndGlyphs" >5.0</text>
<path d="M39.300000000000004 508.8H43.6" stroke="#000" stroke-width="1.5"/>
<text x="39.0" y="511.8" font-size="8.4" font-weight="bold" text-anchor="end" fill="#222" stroke="#222" stroke-width="0.3" textLength="9.81" lengthAdjust="spacingAndGlyphs" >2.5</text>
<path d="M39.300000000000004 550.9H43.6" stroke="#000" stroke-width="1.5"/>
<text x="39.0" y="553.9" font-size="8.4" font-weight="bold" text-anchor="end" fill="#222" stroke="#222" stroke-width="0.3" textLength="9.81" lengthAdjust="spacingAndGlyphs" >0.0</text>
<path d="M66.75 551V557.3" stroke="#000" stroke-width="1.5"/>
<path d="M114.25 551V557.3" stroke="#000" stroke-width="1.5"/>
<path d="M161.25 551V557.3" stroke="#000" stroke-width="1.5"/>
<path d="M208.75 551V557.3" stroke="#000" stroke-width="1.5"/>
<text x="137.3" y="367.6" font-size="10.4" font-weight="bold" text-anchor="middle" fill="#111" stroke="#111" stroke-width="0.3" textLength="31.6" lengthAdjust="spacingAndGlyphs" >miR-92</text>
<text x="53.8" y="408" font-size="10.6" fill="#333" textLength="41.2" lengthAdjust="spacingAndGlyphs"><tspan font-style="italic">P</tspan> &lt; .0001</text>
<path d="M66.75 461.30V456.80M58.75 456.80H74.75" stroke="#000" stroke-width="1.85" fill="none"/>
<path d="M66.75 487.50V489.40M58.75 489.40H74.75" stroke="#000" stroke-width="1.85" fill="none"/>
<rect x="50.35" y="461.30" width="32.80" height="26.20" fill="url(#gr)" stroke="#000" stroke-width="1.85"/>
<path d="M50.35 465.80H83.15" stroke="#000" stroke-width="1.6"/>
<rect x="51.2" y="462.2" width="31.1" height="2.6" fill="#b0b0b0"/>
<path d="M114.40 510.50V485.00M106.65 485.00H122.15" stroke="#000" stroke-width="1.85" fill="none"/>
<rect x="98.10" y="510.50" width="32.60" height="30.80" fill="url(#chkS)" stroke="#000" stroke-width="1.85"/>
<path d="M98.10 525.60H130.70" stroke="#000" stroke-width="1.6"/>
<path d="M114.4 541.3V551" stroke="#000" stroke-width="1.7"/>
<path d="M161.40 404.00V394.40M152.90 394.40H169.90" stroke="#000" stroke-width="1.85" fill="none"/>
<path d="M161.40 430.00V433.80M152.90 433.80H169.90" stroke="#000" stroke-width="1.85" fill="none"/>
<rect x="145.10" y="404.00" width="32.60" height="26.00" fill="url(#hlD)" stroke="#000" stroke-width="1.85"/>
<path d="M145.10 419.60H177.70" stroke="#000" stroke-width="2.6"/>
<path d="M208.80 485.80V483.30M200.55 483.30H217.05" stroke="#000" stroke-width="1.85" fill="none"/>
<path d="M208.80 508.20V512.50M200.55 512.50H217.05" stroke="#000" stroke-width="1.85" fill="none"/>
<rect x="192.55" y="485.80" width="32.50" height="22.40" fill="url(#vl)" stroke="#000" stroke-width="1.85"/>
<path d="M192.55 498.20H225.05" stroke="#000" stroke-width="1.6"/>
<text x="65.95" y="564.8" font-size="8.6" font-weight="bold" text-anchor="middle" fill="#222" stroke="#222" stroke-width="0.3" textLength="33.2" lengthAdjust="spacingAndGlyphs" >CD4 (n=7)</text>
<text x="113.45" y="564.8" font-size="8.6" font-weight="bold" text-anchor="middle" fill="#222" stroke="#222" stroke-width="0.3" textLength="32.5" lengthAdjust="spacingAndGlyphs" >Sz (n=17)</text>
<text x="160.7" y="564.8" font-size="8.6" font-weight="bold" text-anchor="middle" fill="#222" stroke="#222" stroke-width="0.3" textLength="35.5" lengthAdjust="spacingAndGlyphs" >CD3 (n=6)</text>
<text x="208.2" y="564.8" font-size="8.6" font-weight="bold" text-anchor="middle" fill="#222" stroke="#222" stroke-width="0.3" textLength="40.5" lengthAdjust="spacingAndGlyphs" >B cell (n=6)</text>
<text transform="translate(19.8,468) rotate(-90)" font-size="8.4" font-weight="bold" text-anchor="middle" fill="#2a2a2a" stroke="#2a2a2a" stroke-width="0.3" textLength="82" lengthAdjust="spacingAndGlyphs">ΔC<tspan font-size="5.6" dy="1.3">t</tspan><tspan dy="-1.3"> (U6- </tspan><tspan font-style="italic">miR-92)</tspan></text>
<path d="M291.6 385.8V558.4" stroke="#000" stroke-width="1.7" fill="none"/>
<path d="M291.6 500.6H506" stroke="#000" stroke-width="1.7" fill="none"/>
<path d="M287.3 386.5H291.6" stroke="#000" stroke-width="1.5"/>
<text x="287.0" y="389.7" font-size="9.0" font-weight="bold" text-anchor="end" fill="#222" stroke="#222" stroke-width="0.3" textLength="16.11" lengthAdjust="spacingAndGlyphs" >10.0</text>
<path d="M287.3 415.2H291.6" stroke="#000" stroke-width="1.5"/>
<text x="287.0" y="418.4" font-size="9.0" font-weight="bold" text-anchor="end" fill="#222" stroke="#222" stroke-width="0.3" textLength="11.51" lengthAdjust="spacingAndGlyphs" >7.5</text>
<path d="M287.3 443.6H291.6" stroke="#000" stroke-width="1.5"/>
<text x="287.0" y="446.8" font-size="9.0" font-weight="bold" text-anchor="end" fill="#222" stroke="#222" stroke-width="0.3" textLength="11.51" lengthAdjust="spacingAndGlyphs" >5.0</text>
<path d="M287.3 471.9H291.6" stroke="#000" stroke-width="1.5"/>
<text x="287.0" y="475.09999999999997" font-size="9.0" font-weight="bold" text-anchor="end" fill="#222" stroke="#222" stroke-width="0.3" textLength="11.51" lengthAdjust="spacingAndGlyphs" >2.5</text>
<path d="M287.3 500.6H291.6" stroke="#000" stroke-width="1.5"/>
<text x="287.0" y="503.8" font-size="9.0" font-weight="bold" text-anchor="end" fill="#222" stroke="#222" stroke-width="0.3" textLength="11.51" lengthAdjust="spacingAndGlyphs" >0.0</text>
<path d="M287.3 529H291.6" stroke="#000" stroke-width="1.5"/>
<text x="287.0" y="532.2" font-size="9.0" font-weight="bold" text-anchor="end" fill="#222" stroke="#222" stroke-width="0.3" textLength="14.27" lengthAdjust="spacingAndGlyphs" >-2.5</text>
<path d="M287.3 557.6H291.6" stroke="#000" stroke-width="1.5"/>
<text x="287.0" y="560.8000000000001" font-size="9.0" font-weight="bold" text-anchor="end" fill="#222" stroke="#222" stroke-width="0.3" textLength="14.27" lengthAdjust="spacingAndGlyphs" >-5.0</text>
<path d="M318.3 500.6V504.2" stroke="#000" stroke-width="1.5"/>
<path d="M371.9 500.6V504.2" stroke="#000" stroke-width="1.5"/>
<path d="M425 500.6V504.2" stroke="#000" stroke-width="1.5"/>
<path d="M478.3 500.6V504.2" stroke="#000" stroke-width="1.5"/>
<text x="397.5" y="371" font-size="10.8" font-weight="bold" text-anchor="middle" fill="#111" stroke="#111" stroke-width="0.3" textLength="48.4" lengthAdjust="spacingAndGlyphs" >miR-106a</text>
<text x="333.5" y="414.8" font-size="11.2" fill="#333" textLength="41.7" lengthAdjust="spacingAndGlyphs"><tspan font-style="italic">P</tspan> = .001</text>
<path d="M318.30 497.40V488.50M309.45 488.50H327.15" stroke="#000" stroke-width="1.85" fill="none"/>
<path d="M318.30 504.60V512.70M309.45 512.70H327.15" stroke="#000" stroke-width="1.85" fill="none"/>
<rect x="300.30" y="497.40" width="36.00" height="7.20" fill="#222" stroke="#000" stroke-width="1.85"/>
<path d="M371.90 512.70V496.00M362.90 496.00H380.90" stroke="#000" stroke-width="1.85" fill="none"/>
<path d="M371.90 538.70V546.90M362.90 546.90H380.90" stroke="#000" stroke-width="1.85" fill="none"/>
<rect x="353.70" y="512.70" width="36.40" height="26.00" fill="url(#chkS)" stroke="#000" stroke-width="1.85"/>
<path d="M424.90 398.30V400.20M415.40 400.20H434.40" stroke="#000" stroke-width="1.85" fill="none"/>
<rect x="406.60" y="390.60" width="36.60" height="7.70" fill="#eee" stroke="#000" stroke-width="1.85"/>
<path d="M406.60 394.30H443.20" stroke="#000" stroke-width="2.2"/>
<path d="M478.30 410.30V407.90M469.30 407.90H487.30" stroke="#000" stroke-width="1.85" fill="none"/>
<path d="M478.30 425.40V426.60M469.30 426.60H487.30" stroke="#000" stroke-width="1.85" fill="none"/>
<rect x="460.00" y="410.30" width="36.60" height="15.10" fill="url(#vl)" stroke="#000" stroke-width="1.85"/>
<text x="318.4" y="563.9" font-size="9.6" font-weight="bold" text-anchor="middle" fill="#222" stroke="#222" stroke-width="0.3" textLength="41" lengthAdjust="spacingAndGlyphs" >CD4 (n=7)</text>
<text x="372.5" y="563.9" font-size="9.6" font-weight="bold" text-anchor="middle" fill="#222" stroke="#222" stroke-width="0.3" textLength="39.5" lengthAdjust="spacingAndGlyphs" >Sz (n=17)</text>
<text x="425.1" y="563.9" font-size="9.6" font-weight="bold" text-anchor="middle" fill="#222" stroke="#222" stroke-width="0.3" textLength="41.8" lengthAdjust="spacingAndGlyphs" >CD3 (n=6)</text>
<text x="478.7" y="563.9" font-size="9.6" font-weight="bold" text-anchor="middle" fill="#222" stroke="#222" stroke-width="0.3" textLength="47.6" lengthAdjust="spacingAndGlyphs" >B cell (n=6)</text>
<text transform="translate(263.3,472) rotate(-90)" font-size="8.8" font-weight="bold" text-anchor="middle" fill="#2a2a2a" stroke="#2a2a2a" stroke-width="0.3" textLength="95" lengthAdjust="spacingAndGlyphs">ΔC<tspan font-size="5.6" dy="1.3">t</tspan><tspan dy="-1.3"> (U6- </tspan><tspan font-style="italic">miR-106a)</tspan></text>
<path d="M41.2 659.2V820" stroke="#000" stroke-width="1.7" fill="none"/>
<path d="M41.2 723.8H234.4" stroke="#000" stroke-width="1.7" fill="none"/>
<path d="M36.900000000000006 660H41.2" stroke="#000" stroke-width="1.5"/>
<text x="36.6" y="663.0" font-size="8.4" font-weight="bold" text-anchor="end" fill="#222" stroke="#222" stroke-width="0.3" textLength="9.81" lengthAdjust="spacingAndGlyphs" >5.0</text>
<path d="M36.900000000000006 691.6H41.2" stroke="#000" stroke-width="1.5"/>
<text x="36.6" y="694.6" font-size="8.4" font-weight="bold" text-anchor="end" fill="#222" stroke="#222" stroke-width="0.3" textLength="9.81" lengthAdjust="spacingAndGlyphs" >2.5</text>
<path d="M36.900000000000006 723.8H41.2" stroke="#000" stroke-width="1.5"/>
<text x="36.6" y="726.8" font-size="8.4" font-weight="bold" text-anchor="end" fill="#222" stroke="#222" stroke-width="0.3" textLength="9.81" lengthAdjust="spacingAndGlyphs" >0.0</text>
<path d="M36.900000000000006 755.5H41.2" stroke="#000" stroke-width="1.5"/>
<text x="36.6" y="758.5" font-size="8.4" font-weight="bold" text-anchor="end" fill="#222" stroke="#222" stroke-width="0.3" textLength="12.16" lengthAdjust="spacingAndGlyphs" >-2.5</text>
<path d="M36.900000000000006 787.5H41.2" stroke="#000" stroke-width="1.5"/>
<text x="36.6" y="790.5" font-size="8.4" font-weight="bold" text-anchor="end" fill="#222" stroke="#222" stroke-width="0.3" textLength="12.16" lengthAdjust="spacingAndGlyphs" >-5.0</text>
<path d="M36.900000000000006 819.2H41.2" stroke="#000" stroke-width="1.5"/>
<text x="36.6" y="822.2" font-size="8.4" font-weight="bold" text-anchor="end" fill="#222" stroke="#222" stroke-width="0.3" textLength="12.16" lengthAdjust="spacingAndGlyphs" >-7.5</text>
<path d="M65.4 723.8V727.3" stroke="#000" stroke-width="1.5"/>
<path d="M113.75 723.8V727.3" stroke="#000" stroke-width="1.5"/>
<path d="M161.2 723.8V727.3" stroke="#000" stroke-width="1.5"/>
<path d="M209.7 723.8V727.3" stroke="#000" stroke-width="1.5"/>
<text x="137.9" y="645.2" font-size="10.6" font-weight="bold" text-anchor="middle" fill="#111" stroke="#111" stroke-width="0.3" textLength="47.6" lengthAdjust="spacingAndGlyphs" >miR-17-5p</text>
<text x="53.8" y="678" font-size="10.6" fill="#333" textLength="41.7" lengthAdjust="spacingAndGlyphs"><tspan font-style="italic">P</tspan> &lt; .0001</text>
<path d="M65.50 729.40V728.50M57.25 728.50H73.75" stroke="#000" stroke-width="1.85" fill="none"/>
<rect x="49.25" y="729.40" width="32.50" height="15.00" fill="url(#gr)" stroke="#000" stroke-width="1.85"/>
<path d="M49.25 741.50H81.75" stroke="#000" stroke-width="1.8"/>
<path d="M65.2 723.8V729" stroke="#000" stroke-width="1.6"/>
<path d="M113.75 766.30V747.50M105.60 747.50H121.90" stroke="#000" stroke-width="1.85" fill="none"/>
<path d="M113.75 788.70V808.80M105.60 808.80H121.90" stroke="#000" stroke-width="1.85" fill="none"/>
<rect x="97.50" y="766.30" width="32.50" height="22.40" fill="url(#chkS)" stroke="#000" stroke-width="1.85"/>
<path d="M97.50 770.80H130.00" stroke="#000" stroke-width="1.6"/>
<path d="M161.50 670.40V666.10M153.50 666.10H169.50" stroke="#000" stroke-width="1.85" fill="none"/>
<path d="M161.50 683.10V685.30M153.50 685.30H169.50" stroke="#000" stroke-width="1.85" fill="none"/>
<rect x="145.10" y="670.40" width="32.80" height="12.70" fill="url(#hlL)" stroke="#000" stroke-width="1.85"/>
<path d="M145.10 676.80H177.90" stroke="#000" stroke-width="1.6"/>
<rect x="193.30" y="683.30" width="33.00" height="22.50" fill="url(#vl)" stroke="#000" stroke-width="1.85"/>
<path d="M193.30 693.00H226.30" stroke="#000" stroke-width="1.6"/>
<path d="M201.5 682.6H218" stroke="#000" stroke-width="1.6"/>
<text x="65.4" y="828.5" font-size="7.9" font-weight="bold" text-anchor="middle" fill="#222" stroke="#222" stroke-width="0.3" textLength="35.7" lengthAdjust="spacingAndGlyphs" >CD4 (n=7)</text>
<text x="114" y="828.5" font-size="7.9" font-weight="bold" text-anchor="middle" fill="#222" stroke="#222" stroke-width="0.3" textLength="34.5" lengthAdjust="spacingAndGlyphs" >Sz (n=17)</text>
<text x="161.7" y="828.5" font-size="7.9" font-weight="bold" text-anchor="middle" fill="#222" stroke="#222" stroke-width="0.3" textLength="36.1" lengthAdjust="spacingAndGlyphs" >CD3 (n=6)</text>
<text x="209.8" y="828.5" font-size="7.9" font-weight="bold" text-anchor="middle" fill="#222" stroke="#222" stroke-width="0.3" textLength="41.2" lengthAdjust="spacingAndGlyphs" >B cell (n=6)</text>
<text transform="translate(17.8,739.3) rotate(-90)" font-size="8.6" font-weight="bold" text-anchor="middle" fill="#2a2a2a" stroke="#2a2a2a" stroke-width="0.3" textLength="92" lengthAdjust="spacingAndGlyphs">ΔC<tspan font-size="5.6" dy="1.3">t</tspan><tspan dy="-1.3"> (U6- </tspan><tspan font-style="italic">miR-17-5p)</tspan></text>
<path d="M284.5 654.6V810.7" stroke="#000" stroke-width="1.7" fill="none"/>
<path d="M284.5 732.4H506.5" stroke="#000" stroke-width="1.7" fill="none"/>
<path d="M280.2 655.4H284.5" stroke="#000" stroke-width="1.5"/>
<text x="279.9" y="658.6" font-size="9.0" font-weight="bold" text-anchor="end" fill="#222" stroke="#222" stroke-width="0.3" textLength="4.60" lengthAdjust="spacingAndGlyphs" >8</text>
<path d="M280.2 674.7H284.5" stroke="#000" stroke-width="1.5"/>
<text x="279.9" y="677.9200000000001" font-size="9.0" font-weight="bold" text-anchor="end" fill="#222" stroke="#222" stroke-width="0.3" textLength="4.60" lengthAdjust="spacingAndGlyphs" >6</text>
<path d="M280.2 694.0H284.5" stroke="#000" stroke-width="1.5"/>
<text x="279.9" y="697.24" font-size="9.0" font-weight="bold" text-anchor="end" fill="#222" stroke="#222" stroke-width="0.3" textLength="4.60" lengthAdjust="spacingAndGlyphs" >4</text>
<path d="M280.2 713.4H284.5" stroke="#000" stroke-width="1.5"/>
<text x="279.9" y="716.5600000000001" font-size="9.0" font-weight="bold" text-anchor="end" fill="#222" stroke="#222" stroke-width="0.3" textLength="4.60" lengthAdjust="spacingAndGlyphs" >2</text>
<path d="M280.2 732.7H284.5" stroke="#000" stroke-width="1.5"/>
<text x="279.9" y="735.88" font-size="9.0" font-weight="bold" text-anchor="end" fill="#222" stroke="#222" stroke-width="0.3" textLength="4.60" lengthAdjust="spacingAndGlyphs" >0</text>
<path d="M280.2 752.0H284.5" stroke="#000" stroke-width="1.5"/>
<text x="279.9" y="755.2" font-size="9.0" font-weight="bold" text-anchor="end" fill="#222" stroke="#222" stroke-width="0.3" textLength="7.36" lengthAdjust="spacingAndGlyphs" >-2</text>
<path d="M280.2 771.3H284.5" stroke="#000" stroke-width="1.5"/>
<text x="279.9" y="774.52" font-size="9.0" font-weight="bold" text-anchor="end" fill="#222" stroke="#222" stroke-width="0.3" textLength="7.36" lengthAdjust="spacingAndGlyphs" >-4</text>
<path d="M280.2 790.6H284.5" stroke="#000" stroke-width="1.5"/>
<text x="279.9" y="793.84" font-size="9.0" font-weight="bold" text-anchor="end" fill="#222" stroke="#222" stroke-width="0.3" textLength="7.36" lengthAdjust="spacingAndGlyphs" >-6</text>
<path d="M280.2 810.0H284.5" stroke="#000" stroke-width="1.5"/>
<text x="279.9" y="813.1600000000001" font-size="9.0" font-weight="bold" text-anchor="end" fill="#222" stroke="#222" stroke-width="0.3" textLength="7.36" lengthAdjust="spacingAndGlyphs" >-8</text>
<path d="M312.7 732.4V736" stroke="#000" stroke-width="1.5"/>
<path d="M367.7 732.4V736" stroke="#000" stroke-width="1.5"/>
<path d="M422.5 732.4V736" stroke="#000" stroke-width="1.5"/>
<path d="M478.3 732.4V736" stroke="#000" stroke-width="1.5"/>
<text x="394.9" y="642" font-size="10.9" font-weight="bold" text-anchor="middle" fill="#111" stroke="#111" stroke-width="0.3" textLength="42.5" lengthAdjust="spacingAndGlyphs" >miR-19a</text>
<text x="299.3" y="671.5" font-size="11.6" fill="#333" textLength="47.6" lengthAdjust="spacingAndGlyphs"><tspan font-style="italic">P</tspan> &lt; .0001</text>
<path d="M312.50 743.60V741.80M302.90 741.80H322.10" stroke="#000" stroke-width="1.85" fill="none"/>
<path d="M312.50 761.40V765.20M302.90 765.20H322.10" stroke="#000" stroke-width="1.85" fill="none"/>
<rect x="293.70" y="743.60" width="37.60" height="17.80" fill="url(#gr)" stroke="#000" stroke-width="1.85"/>
<path d="M293.70 753.00H331.30" stroke="#000" stroke-width="1.6"/>
<path d="M367.70 771.40V753.30M358.50 753.30H376.90" stroke="#000" stroke-width="1.85" fill="none"/>
<path d="M367.70 786.70V801.00M358.50 801.00H376.90" stroke="#000" stroke-width="1.85" fill="none"/>
<rect x="348.90" y="771.40" width="37.60" height="15.30" fill="url(#chkS)" stroke="#000" stroke-width="1.85"/>
<path d="M348.90 779.40H386.50" stroke="#000" stroke-width="1.6"/>
<path d="M422.80 686.00V681.20M413.40 681.20H432.20" stroke="#000" stroke-width="1.85" fill="none"/>
<path d="M422.80 704.90V707.30M413.40 707.30H432.20" stroke="#000" stroke-width="1.85" fill="none"/>
<rect x="404.20" y="686.00" width="37.20" height="18.90" fill="url(#hlL)" stroke="#000" stroke-width="1.85"/>
<path d="M404.20 696.50H441.40" stroke="#000" stroke-width="1.6"/>
<path d="M478.00 683.90V686.10M468.60 686.10H487.40" stroke="#000" stroke-width="1.85" fill="none"/>
<rect x="459.40" y="667.20" width="37.20" height="16.70" fill="url(#vl)" stroke="#000" stroke-width="1.85"/>
<path d="M459.40 672.30H496.60" stroke="#000" stroke-width="1.6"/>
<text x="312.6" y="834.4" font-size="8.7" font-weight="bold" text-anchor="middle" fill="#222" stroke="#222" stroke-width="0.3" textLength="41.8" lengthAdjust="spacingAndGlyphs" >CD4 (n=7)</text>
<text x="367.9" y="834.4" font-size="8.7" font-weight="bold" text-anchor="middle" fill="#222" stroke="#222" stroke-width="0.3" textLength="40" lengthAdjust="spacingAndGlyphs" >Sz (n=17)</text>
<text x="422.8" y="834.4" font-size="8.7" font-weight="bold" text-anchor="middle" fill="#222" stroke="#222" stroke-width="0.3" textLength="41" lengthAdjust="spacingAndGlyphs" >CD3 (n=6)</text>
<text x="478.3" y="834.4" font-size="8.7" font-weight="bold" text-anchor="middle" fill="#222" stroke="#222" stroke-width="0.3" textLength="46.8" lengthAdjust="spacingAndGlyphs" >B cell (n=6)</text>
<text transform="translate(265.2,733.5) rotate(-90)" font-size="8.8" font-weight="bold" text-anchor="middle" fill="#2a2a2a" stroke="#2a2a2a" stroke-width="0.3" textLength="78.5" lengthAdjust="spacingAndGlyphs">ΔC<tspan font-size="5.6" dy="1.3">t</tspan><tspan dy="-1.3"> (U6- </tspan><tspan font-style="italic">miR-19a)</tspan></text>
<path d="M39.5 911.6V1074.4H249.2" stroke="#000" stroke-width="2" fill="none"/>
<path d="M34.9 912.5H39.5" stroke="#000" stroke-width="1.8"/>
<text x="34.3" y="916.4" font-size="11.2" font-weight="bold" text-anchor="end" fill="#111" stroke="#111" stroke-width="0.3" textLength="13.4" lengthAdjust="spacingAndGlyphs" >0.5</text>
<path d="M34.9 944.9H39.5" stroke="#000" stroke-width="1.8"/>
<text x="34.3" y="948.77" font-size="11.2" font-weight="bold" text-anchor="end" fill="#111" stroke="#111" stroke-width="0.3" textLength="13.4" lengthAdjust="spacingAndGlyphs" >0.4</text>
<path d="M34.9 977.2H39.5" stroke="#000" stroke-width="1.8"/>
<text x="34.3" y="981.14" font-size="11.2" font-weight="bold" text-anchor="end" fill="#111" stroke="#111" stroke-width="0.3" textLength="13.4" lengthAdjust="spacingAndGlyphs" >0.3</text>
<path d="M34.9 1009.6H39.5" stroke="#000" stroke-width="1.8"/>
<text x="34.3" y="1013.51" font-size="11.2" font-weight="bold" text-anchor="end" fill="#111" stroke="#111" stroke-width="0.3" textLength="13.4" lengthAdjust="spacingAndGlyphs" >0.2</text>
<path d="M34.9 1042.0H39.5" stroke="#000" stroke-width="1.8"/>
<text x="34.3" y="1045.88" font-size="11.2" font-weight="bold" text-anchor="end" fill="#111" stroke="#111" stroke-width="0.3" textLength="13.4" lengthAdjust="spacingAndGlyphs" >0.1</text>
<path d="M34.9 1074.3H39.5" stroke="#000" stroke-width="1.8"/>
<text x="34.3" y="1078.25" font-size="11.2" font-weight="bold" text-anchor="end" fill="#111" stroke="#111" stroke-width="0.3" textLength="13.4" lengthAdjust="spacingAndGlyphs" >0.0</text>
<path d="M92.5 1074.4V1079" stroke="#000" stroke-width="1.8"/>
<path d="M197.5 1074.4V1079" stroke="#000" stroke-width="1.8"/>
<path d="M92.5 993.8V983M75 983H110" stroke="#000" stroke-width="1.8" fill="none"/>
<rect x="58.4" y="994.6" width="69" height="79.8" fill="url(#chkF)" stroke="#000" stroke-width="2"/>
<path d="M197.5 940V925.7M179.8 925.7H214.8" stroke="#000" stroke-width="1.8" fill="none"/>
<rect x="162.4" y="940.4" width="69.8" height="134" fill="url(#chkL)" stroke="#000" stroke-width="2"/>
<path d="M90 914.5V900H196.7V916.3" stroke="#000" stroke-width="1.9" fill="none"/>
<text x="122.7" y="895.6" font-size="13.6" fill="#333" textLength="40.4" lengthAdjust="spacingAndGlyphs"><tspan font-style="italic">P</tspan> = .01</text>
<text x="92.8" y="1090.6" font-size="10.8" font-weight="bold" text-anchor="middle" fill="#222" stroke="#222" stroke-width="0.3" textLength="58" lengthAdjust="spacingAndGlyphs" >Mock trans.</text>
<text x="198" y="1090.8" font-size="11.4" font-weight="bold" text-anchor="middle" fill="#222" stroke="#222" stroke-width="0.3" textLength="44.5" lengthAdjust="spacingAndGlyphs" >miR-17-5p</text>
<text transform="translate(11.3,1041.6) rotate(-90)" font-size="10.8" font-weight="bold" fill="#222" stroke="#222" stroke-width="0.25" textLength="17.8" lengthAdjust="spacingAndGlyphs">OD</text>
<text transform="translate(13.3,1017.9) rotate(-90)" font-size="7.3" font-weight="bold" fill="#222" stroke="#222" stroke-width="0.25" textLength="73.6" lengthAdjust="spacingAndGlyphs">(405nm-490nm)</text>
<path d="M305.2 919.2V1074.5H516" stroke="#000" stroke-width="2" fill="none"/>
<path d="M300.59999999999997 920.0H305.2" stroke="#000" stroke-width="1.8"/>
<text x="300.0" y="923.9" font-size="11.2" font-weight="bold" text-anchor="end" fill="#111" stroke="#111" stroke-width="0.3" textLength="19.8" lengthAdjust="spacingAndGlyphs" >1.00</text>
<path d="M300.59999999999997 958.6H305.2" stroke="#000" stroke-width="1.8"/>
<text x="300.0" y="962.5" font-size="11.2" font-weight="bold" text-anchor="end" fill="#111" stroke="#111" stroke-width="0.3" textLength="19.8" lengthAdjust="spacingAndGlyphs" >0.75</text>
<path d="M300.59999999999997 997.2H305.2" stroke="#000" stroke-width="1.8"/>
<text x="300.0" y="1001.1" font-size="11.2" font-weight="bold" text-anchor="end" fill="#111" stroke="#111" stroke-width="0.3" textLength="19.8" lengthAdjust="spacingAndGlyphs" >0.50</text>
<path d="M300.59999999999997 1035.8H305.2" stroke="#000" stroke-width="1.8"/>
<text x="300.0" y="1039.7" font-size="11.2" font-weight="bold" text-anchor="end" fill="#111" stroke="#111" stroke-width="0.3" textLength="19.8" lengthAdjust="spacingAndGlyphs" >0.25</text>
<path d="M300.59999999999997 1074.4H305.2" stroke="#000" stroke-width="1.8"/>
<text x="300.0" y="1078.3000000000002" font-size="11.2" font-weight="bold" text-anchor="end" fill="#111" stroke="#111" stroke-width="0.3" textLength="19.8" lengthAdjust="spacingAndGlyphs" >0.00</text>
<path d="M358.2 1074.5V1079.2" stroke="#000" stroke-width="1.8"/>
<path d="M463.5 1074.5V1079.2" stroke="#000" stroke-width="1.8"/>
<path d="M358.2 933.7V924M340.2 924H375.7" stroke="#000" stroke-width="1.8" fill="none"/>
<rect x="323" y="934.5" width="69" height="140" fill="url(#chkF)" stroke="#000" stroke-width="2"/>
<path d="M463.5 970.4V964.5M446 964.5H481.5" stroke="#000" stroke-width="1.8" fill="none"/>
<rect x="428.8" y="971.2" width="69.6" height="103.3" fill="url(#chkL)" stroke="#000" stroke-width="2"/>
<path d="M358.2 913.2V898.3H462.7V913" stroke="#000" stroke-width="1.9" fill="none"/>
<text x="392.1" y="895" font-size="13.6" fill="#333" textLength="40.4" lengthAdjust="spacingAndGlyphs"><tspan font-style="italic">P</tspan> = .01</text>
<text x="357.7" y="1090.4" font-size="10.8" font-weight="bold" text-anchor="middle" fill="#222" stroke="#222" stroke-width="0.3" textLength="59.3" lengthAdjust="spacingAndGlyphs" >Mock trans.</text>
<text x="464" y="1090.6" font-size="11.4" font-weight="bold" text-anchor="middle" fill="#222" stroke="#222" stroke-width="0.3" textLength="51.2" lengthAdjust="spacingAndGlyphs" >miR-17-5p</text>
<text transform="translate(271.3,997) rotate(-90)" font-size="11.8" font-weight="bold" text-anchor="middle" fill="#222" stroke="#222" stroke-width="0.3" textLength="71.4" lengthAdjust="spacingAndGlyphs">OD (490nm)</text>
</g>
</svg></body></html>
